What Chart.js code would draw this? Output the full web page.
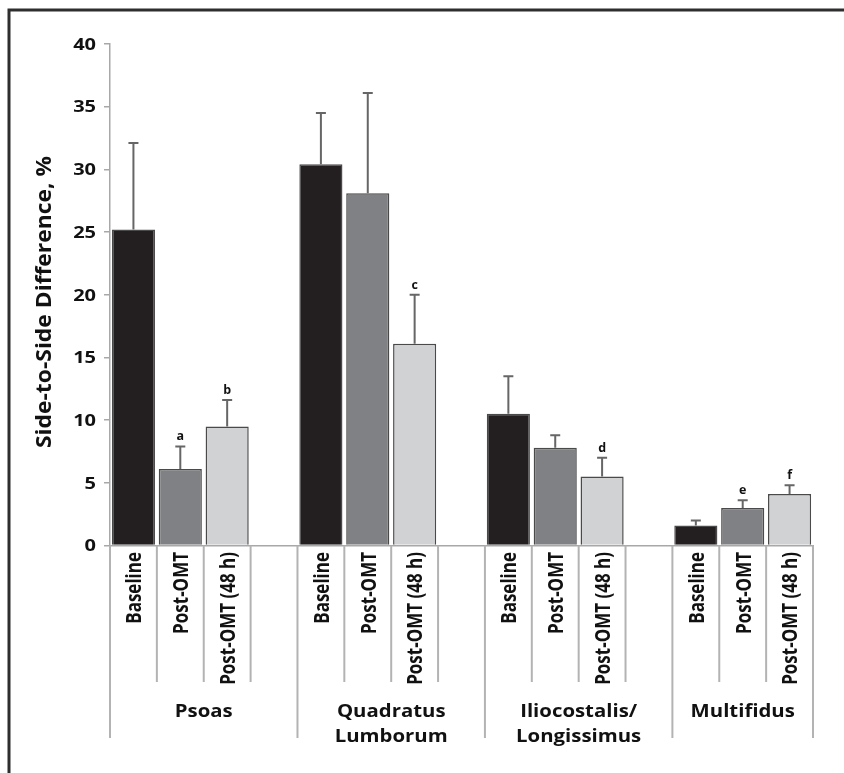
<!DOCTYPE html>
<html><head><meta charset="utf-8">
<script src="https://cdn.jsdelivr.net/npm/chart.js@4"></script>
<style>html,body{margin:0;padding:0;background:#fff;}canvas{display:block;}</style>
</head><body>
<canvas id="c" width="844" height="773"></canvas>
<script>
// ---- data ----
const muscles = ['Psoas', 'Quadratus\nLumborum', 'Iliocostalis/\nLongissimus', 'Multifidus'];
const timepoints = ['Baseline', 'Post-OMT', 'Post-OMT (48 h)'];
const baselineMean = [25.2, 30.4, 10.5, 1.6];
const postMean = [6.1, 28.1, 7.8, 3.0];
const post48Mean = [9.5, 16.1, 5.5, 4.1];
const baselineSD = [6.9, 4.1, 3.0, 0.4];
const postSD = [1.8, 8.0, 1.0, 0.6];
const post48SD = [2.1, 3.9, 1.5, 0.7];
const baselineMarks = ['', '', '', ''];
const postMarks = ['a', '', '', 'e'];
const post48Marks = ['b', 'c', 'd', 'f'];
const yTickValues = [0, 5, 10, 15, 20, 25, 30, 35, 40];
const yTitle = 'Side-to-Side Difference, %';

// ---- build slots (3 bars per muscle + empty gap slot) ----
const seriesColors = ['#231f20', '#808184', '#d1d2d4'];
const series = [[baselineMean, baselineSD, baselineMarks], [postMean, postSD, postMarks], [post48Mean, post48SD, post48Marks]];
const slots = [];
muscles.forEach((m, g) => {
  series.forEach(([mean, sd, marks], t) => {
    slots.push({label: timepoints[t], group: g, value: mean[g], sd: sd[g], mark: marks[g], series: t});
  });
  if (g < muscles.length - 1) slots.push({label: '', group: g, value: null, sd: 0, mark: '', series: -1, gap: true});
});

function txt(ctx, s, x, y, o) {
  ctx.save();
  ctx.translate(x, y);
  if (o.rot) ctx.rotate(o.rot);
  ctx.scale(o.along || 1, o.across || 1);
  ctx.font = 'bold ' + o.size + 'px "Open Sans"';
  ctx.textAlign = o.align || 'center';
  ctx.textBaseline = o.base || 'alphabetic';
  ctx.fillStyle = o.color || '#111';
  ctx.fillText(s, 0, 0);
  ctx.restore();
}

const decor = {
  id: 'decor',
  afterDatasetsDraw(chart) {
    const ctx = chart.ctx, ys = chart.scales.y;
    const meta = chart.getDatasetMeta(0);
    ctx.save();
    slots.forEach((s, i) => {
      if (s.value == null) return;
      const el = meta.data[i];
      const x = el.x, yTop = el.y, yErr = ys.getPixelForValue(s.value + s.sd);
      ctx.strokeStyle = '#666666';
      ctx.lineWidth = 2;
      ctx.beginPath();
      ctx.moveTo(x, yTop); ctx.lineTo(x, yErr);
      ctx.moveTo(x - 5, yErr); ctx.lineTo(x + 5, yErr);
      ctx.stroke();
      if (s.mark) txt(ctx, s.mark, x, yErr - 6, {size: 12.5, color: '#111'});
    });
    ctx.restore();
  },
  afterDraw(chart) {
    const ctx = chart.ctx, xs = chart.scales.x, ys = chart.scales.y, ca = chart.chartArea;
    const slotW = (ca.right - ca.left) / slots.length;
    ctx.save();
    // frame
    ctx.strokeStyle = '#2e2e2e';
    ctx.lineWidth = 3;
    ctx.beginPath();
    ctx.moveTo(9, 790); ctx.lineTo(9, 10); ctx.lineTo(860, 10);
    ctx.stroke();
    // y tick labels
    yTickValues.forEach(v => {
      const y = ys.getPixelForValue(v);
      txt(ctx, String(v), 96, y + 5.8, {size: 16, along: 1.25, align: 'right'});
    });
    // y title
    ctx.font = 'bold 19px "Open Sans"';
    const tw = ctx.measureText(yTitle).width;
    txt(ctx, yTitle, 51, 302, {size: 19, rot: -Math.PI / 2, along: 292 / tw, across: 1.15});
    // category separators
    ctx.strokeStyle = '#b3b3b3';
    ctx.lineWidth = 2;
    const bottom = ca.bottom;
    for (let i = 0; i <= slots.length; i++) {
      const bx = ca.left + i * slotW;
      const prev = slots[i - 1], next = slots[i];
      const isGroupEdge = i === 0 || i === slots.length || (prev && prev.gap);
      ctx.beginPath();
      ctx.moveTo(bx, bottom);
      ctx.lineTo(bx, isGroupEdge ? 738 : 682);
      ctx.stroke();
    }
    // tick labels (rotated)
    slots.forEach((s, i) => {
      if (!s.label) return;
      const cx = xs.getPixelForValue(i);
      txt(ctx, s.label, cx + 7.8, 552, {size: 17, rot: -Math.PI / 2, along: 1, across: 1.25, align: 'right'});
    });
    // group labels
    muscles.forEach((m, g) => {
      const idx = slots.map((s, i) => s.group === g ? i : -1).filter(i => i >= 0);
      const x0 = ca.left + idx[0] * slotW, x1 = ca.left + (idx[idx.length - 1] + 1) * slotW;
      const cx = (x0 + x1) / 2;
      m.split('\n').forEach((line, k) => {
        txt(ctx, line, cx, 716.7 + k * 25, {size: 18.5, along: 1.1});
      });
    });
    ctx.restore();
  }
};

new Chart(document.getElementById('c'), {
  type: 'bar',
  data: {
    labels: slots.map(s => s.label),
    datasets: [{
      data: slots.map(s => s.value),
      backgroundColor: slots.map(s => s.series >= 0 ? seriesColors[s.series] : 'rgba(0,0,0,0)'),
      borderColor: '#4a4a4a',
      borderWidth: 1.5,
      categoryPercentage: 1.0,
      barPercentage: 0.92
    }]
  },
  options: {
    responsive: false,
    animation: false,
    devicePixelRatio: 1,
    layout: {padding: {top: 44, right: 31, bottom: 0, left: 0}},
    plugins: {legend: {display: false}, tooltip: {enabled: false}},
    scales: {
      x: {
        ticks: {display: false},
        grid: {display: false},
        border: {display: true, color: '#a8a8a8', width: 1.5},
        afterFit(s) { s.height = 227.5; }
      },
      y: {
        min: 0, max: 40,
        ticks: {display: false, stepSize: 5},
        grid: {drawOnChartArea: false, drawTicks: true, tickLength: 6, color: '#a8a8a8', lineWidth: 1.5},
        border: {display: true, color: '#a8a8a8', width: 1.5},
        afterFit(s) { s.width = 110; }
      }
    }
  },
  plugins: [decor]
});
</script>
</body></html>
